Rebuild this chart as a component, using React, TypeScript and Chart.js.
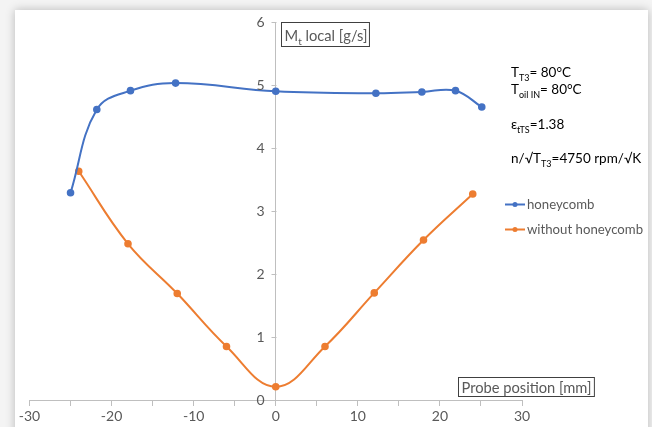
import React, { useEffect, useRef } from "react";
import { Chart, registerables } from "chart.js";

Chart.register(...registerables);

const xHoneycomb = [-25, -21.8, -17.7, -12.2, 0, 12.2, 17.8, 21.9, 25.1];
const yHoneycomb = [3.29, 4.61, 4.91, 5.03, 4.9, 4.87, 4.89, 4.91, 4.65];
const xWithout = [-24, -18, -12, -6, 0, 6, 12, 18, 24];
const yWithout = [3.63, 2.48, 1.69, 0.85, 0.21, 0.85, 1.7, 2.54, 3.27];
const seriesNames = ["honeycomb", "without honeycomb"];
const seriesColors = ["#4472C4", "#ED7D31"];
const yAxisTitle = ["M", "t", " local [g/s]"];
const xAxisTitle = "Probe position [mm]";

const FONT = "Lato";
const GRAY_TEXT = "#595959";
const AXIS_GRAY = "#bfbfbf";

function drawSub(ctx: CanvasRenderingContext2D, parts: [string, boolean][], x: number, y: number, size: number) {
  let cx = x;
  for (const [t, sub] of parts) {
    ctx.font = `${sub ? Math.round(size * 0.68) : size}px ${FONT}`;
    ctx.fillText(t, cx, sub ? y + size * 0.28 : y);
    cx += ctx.measureText(t).width;
  }
  return cx - x;
}

const overlayPlugin = {
  id: "overlay",
  afterDraw(chart: any) {
    const ctx: CanvasRenderingContext2D = chart.ctx;
    const ys = chart.scales.y;
    const xs = chart.scales.x;
    ctx.save();

    // Y axis tick marks and labels (left of the centred axis)
    const x0 = Math.round(xs.getPixelForValue(0)) + 0.5;
    ctx.strokeStyle = AXIS_GRAY;
    ctx.lineWidth = 1;
    ctx.fillStyle = GRAY_TEXT;
    ctx.font = `14px ${FONT}`;
    ctx.textAlign = "right";
    ctx.textBaseline = "middle";
    for (const t of ys.ticks) {
      const py = Math.round(ys.getPixelForValue(t.value)) + 0.5;
      ctx.beginPath();
      ctx.moveTo(x0 - 5, py);
      ctx.lineTo(x0, py);
      ctx.stroke();
      ctx.fillText(String(t.value), x0 - 12, py);
    }

    ctx.textBaseline = "alphabetic";
    ctx.textAlign = "left";

    // Y axis title box
    ctx.fillStyle = GRAY_TEXT;
    const w1 = drawSub(ctx, [[yAxisTitle[0], false], [yAxisTitle[1], true], [yAxisTitle[2], false]], 284.5, 40.5, 14.7);
    ctx.strokeStyle = "#404040";
    ctx.lineWidth = 1;
    ctx.strokeRect(281.5, 22.5, w1 + 5, 24);

    // X axis title box
    ctx.font = `14.7px ${FONT}`;
    const w2 = ctx.measureText(xAxisTitle).width;
    ctx.fillText(xAxisTitle, 461.5, 392.5);
    ctx.strokeRect(458.5, 377.5, w2 + 6, 19);

    // Annotations
    ctx.fillStyle = "#000000";
    drawSub(ctx, [["T", false], ["T3", true], ["= 80°C", false]], 511, 77, 13.5);
    drawSub(ctx, [["T", false], ["oil IN", true], ["= 80°C", false]], 511, 94, 13.5);
    drawSub(ctx, [["ε", false], ["tTS", true], ["=1.38", false]], 511, 129, 13.5);
    drawSub(ctx, [["n/√T", false], ["T3", true], ["=4750 rpm/√K", false]], 511, 163, 13.5);

    // Legend
    const ly = [204.5, 229.5];
    for (let i = 0; i < 2; i++) {
      ctx.strokeStyle = seriesColors[i];
      ctx.lineWidth = 2;
      ctx.beginPath();
      ctx.moveTo(505, ly[i]);
      ctx.lineTo(525, ly[i]);
      ctx.stroke();
      ctx.fillStyle = seriesColors[i];
      ctx.beginPath();
      ctx.arc(515, ly[i], 2.5, 0, Math.PI * 2);
      ctx.fill();
      ctx.fillStyle = GRAY_TEXT;
      ctx.font = `13.2px ${FONT}`;
      ctx.textBaseline = "middle";
      ctx.fillText(seriesNames[i], 527, ly[i]);
      ctx.textBaseline = "alphabetic";
    }
    ctx.restore();
  },
};

export default function App() {
  const ref = useRef<HTMLCanvasElement | null>(null);
  useEffect(() => {
    document.body.style.margin = "0";
    const canvas = ref.current!;
    const chart = new Chart(canvas, {
      type: "line",
      data: {
        datasets: [
          {
            label: seriesNames[0],
            data: xHoneycomb.map((x, i) => ({ x, y: yHoneycomb[i] })),
            borderColor: seriesColors[0],
            backgroundColor: seriesColors[0],
            borderWidth: 2,
            pointRadius: 2.8,
            tension: 0.4,
          },
          {
            label: seriesNames[1],
            data: xWithout.map((x, i) => ({ x, y: yWithout[i] })),
            borderColor: seriesColors[1],
            backgroundColor: seriesColors[1],
            borderWidth: 2,
            pointRadius: 2.8,
            tension: 0.4,
          },
        ],
      },
      options: {
        responsive: false,
        animation: false,
        devicePixelRatio: 1,
        layout: { padding: { left: 29.5, right: 130, top: 22, bottom: 27 } },
        plugins: { legend: { display: false }, tooltip: { enabled: false } },
        scales: {
          x: {
            type: "linear",
            min: -30,
            max: 30,
            position: { y: 0 } as any,
            grid: { display: true, drawOnChartArea: false, drawTicks: true, tickLength: 5, color: AXIS_GRAY },
            border: { display: true, color: AXIS_GRAY, width: 1 },
            ticks: {
              stepSize: 5,
              autoSkip: false,
              maxRotation: 0,
              color: GRAY_TEXT,
              font: { family: FONT, size: 14 },
              callback: (v: any) => (Number(v) % 10 === 0 ? String(v) : ""),
            },
          },
          y: {
            type: "linear",
            min: 0,
            max: 6,
            position: { x: 0 } as any,
            grid: { display: false },
            border: { display: true, color: AXIS_GRAY, width: 1 },
            ticks: {
              stepSize: 1,
              display: false,
            },
          },
        },
      },
      plugins: [overlayPlugin],
    });
    return () => chart.destroy();
  }, []);

  return (
    <div style={{ position: "relative", width: 652, height: 427, overflow: "hidden", background: "#f4f4f4" }}>
      <div
        style={{
          position: "absolute",
          left: 15,
          top: 10,
          width: 633,
          height: 430,
          background: "#ffffff",
          boxShadow: "0 0 9px rgba(0,0,0,0.25)",
        }}
      />
      <canvas ref={ref} width={652} height={427} style={{ position: "absolute", left: 0, top: 0, width: 652, height: 427 }} />
    </div>
  );
}
